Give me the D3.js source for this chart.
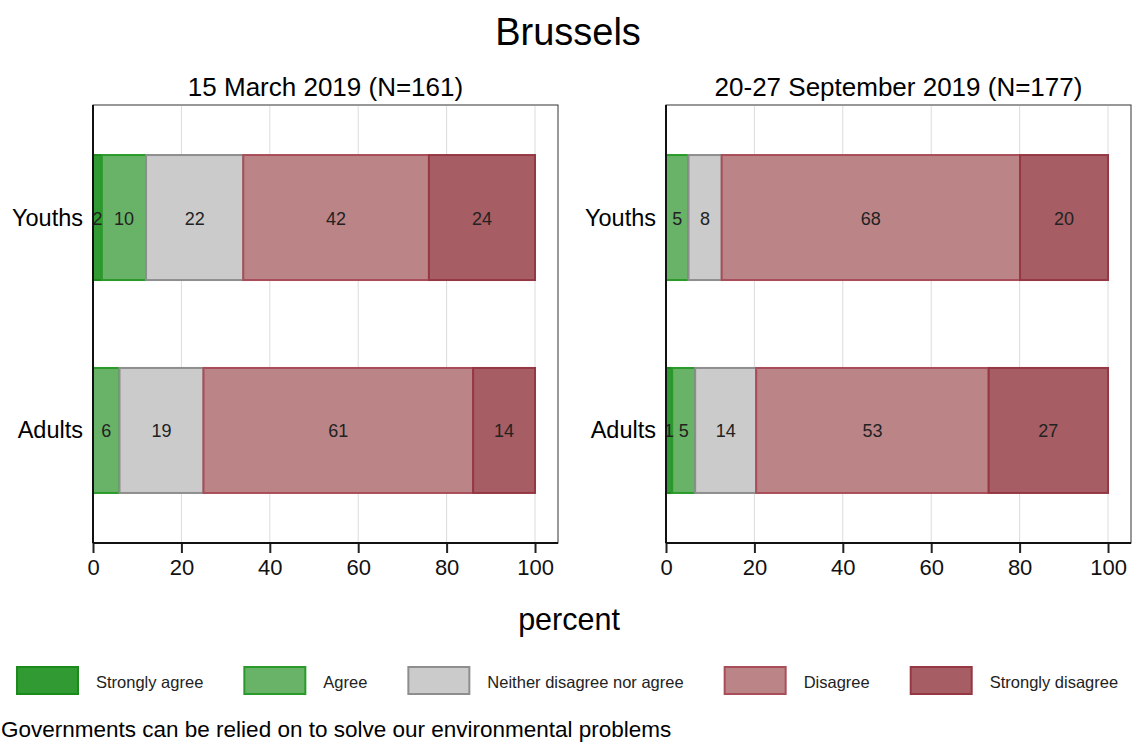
<!DOCTYPE html>
<html lang="en">
<head>
<meta charset="UTF-8">
<script src="https://d3js.org/d3.v7.min.js"></script>
<title>Brussels</title>
<style>
  body { margin: 0; background: white; }
  svg { display: block; font-family: "Liberation Sans", Arial, sans-serif; }
</style>
</head>
<body>
<svg id="chart" width="1132" height="743"></svg>
<script>
// data
const groups = ["Youths", "Adults"];
const responses = ["Strongly agree", "Agree", "Neither disagree nor agree", "Disagree", "Strongly disagree"];
const panelTitles = ["15 March 2019 (N=161)", "20-27 September 2019 (N=177)"];
const marchYouths = [2, 10, 22, 42, 24];
const marchAdults = [0, 6, 19, 61, 14];
const septYouths = [0, 5.1, 7.5, 67.5, 19.9];
const septAdults = [1.4, 5.2, 13.8, 52.6, 27];
const xTicks = [0, 20, 40, 60, 80, 100];

const fills = ["#329a32", "#68b368", "#cbcbcb", "#bb8587", "#a65d63"];
const strokes = ["#1a8a1a", "#2a9a2a", "#8e8e8e", "#a84d59", "#963844"];

const panels = [
  {title: panelTitles[0], rows: {Youths: marchYouths, Adults: marchAdults}, x0: 93},
  {title: panelTitles[1], rows: {Youths: septYouths, Adults: septAdults}, x0: 666}
];

const svg = d3.select("#chart");
const plotTop = 105, plotBottom = 543, pw = 465;

svg.append("text")
   .attr("x", 568).attr("y", 45)
   .attr("text-anchor", "middle")
   .style("font-size", "38px")
   .text("Brussels");

const y = d3.scaleBand().domain(groups).range([plotTop, plotBottom])
            .paddingInner(0.413).paddingOuter(0.235);

panels.forEach(p => {
  const x = d3.scaleLinear().domain([0, 105.2]).range([p.x0, p.x0 + pw]);
  const g = svg.append("g");

  g.append("text")
   .attr("x", p.x0 + pw / 2).attr("y", 96)
   .attr("text-anchor", "middle")
   .style("font-size", "26px")
   .text(p.title);

  // frame
  g.append("rect")
   .attr("x", x(0)).attr("y", plotTop)
   .attr("width", pw).attr("height", plotBottom - plotTop)
   .attr("fill", "none").attr("stroke", "#333").attr("stroke-width", 1);

  // grid
  g.selectAll(".grid").data(xTicks.slice(1)).enter().append("line")
   .attr("x1", d => x(d)).attr("x2", d => x(d))
   .attr("y1", plotTop + 1).attr("y2", plotBottom)
   .attr("stroke", "#dcdcdc").attr("stroke-width", 1);

  // stacked bars
  groups.forEach(grp => {
    const vals = p.rows[grp];
    let acc = 0;
    const segs = vals.map((v, i) => {
      const s = {i: i, v: v, a: acc, b: acc + v};
      acc += v;
      return s;
    }).filter(s => s.v > 0);

    g.selectAll(".seg-" + grp).data(segs).enter().append("rect")
     .attr("x", d => x(d.a)).attr("y", y(grp))
     .attr("width", d => x(d.b) - x(d.a))
     .attr("height", y.bandwidth())
     .attr("fill", d => fills[d.i])
     .attr("stroke", d => strokes[d.i])
     .attr("stroke-width", 2);

    g.selectAll(".lab-" + grp).data(segs).enter().append("text")
     .attr("x", d => (x(d.a) + x(d.b)) / 2)
     .attr("y", y(grp) + y.bandwidth() / 2 + 7)
     .attr("text-anchor", "middle")
     .style("font-size", "18px")
     .attr("fill", "#222")
     .text(d => Math.round(d.v));
  });

  // axes
  const xAxis = d3.axisBottom(x).tickValues(xTicks).tickSize(10).tickPadding(6);
  const ax = g.append("g").attr("transform", "translate(0," + plotBottom + ")").call(xAxis);
  ax.select(".domain").remove();
  ax.selectAll(".tick line").attr("stroke", "#222").attr("stroke-width", 2);
  ax.selectAll(".tick text").style("font-size", "22px").attr("fill", "#111")
    .attr("font-family", "Liberation Sans, Arial, sans-serif");
  g.append("line").attr("x1", x(0)).attr("x2", x(0) + pw)
   .attr("y1", plotBottom).attr("y2", plotBottom).attr("stroke", "#111").attr("stroke-width", 2);

  g.append("line").attr("x1", x(0)).attr("x2", x(0))
   .attr("y1", plotTop).attr("y2", plotBottom).attr("stroke", "#111").attr("stroke-width", 2);

  g.selectAll(".ylab").data(groups).enter().append("text")
   .attr("x", x(0) - 10)
   .attr("y", d => y(d) + y.bandwidth() / 2 + 8)
   .attr("text-anchor", "end")
   .style("font-size", "23.5px")
   .text(d => d);
});

svg.append("text")
   .attr("x", 569).attr("y", 630)
   .attr("text-anchor", "middle")
   .style("font-size", "30.5px")
   .text("percent");

// legend, laid out in a row
const leg = svg.append("g");
let lx = 17;
responses.forEach((r, i) => {
  leg.append("rect")
     .attr("x", lx).attr("y", 667)
     .attr("width", 61).attr("height", 27)
     .attr("fill", fills[i]).attr("stroke", strokes[i]).attr("stroke-width", 2);
  const t = leg.append("text")
     .attr("x", lx + 79).attr("y", 688)
     .style("font-size", "16.5px")
     .attr("fill", "#222")
     .text(r);
  lx = lx + 79 + t.node().getComputedTextLength() + 41;
});

svg.append("text")
   .attr("x", 1).attr("y", 737)
   .style("font-size", "22.5px")
   .text("Governments can be relied on to solve our environmental problems");
</script>
</body>
</html>
